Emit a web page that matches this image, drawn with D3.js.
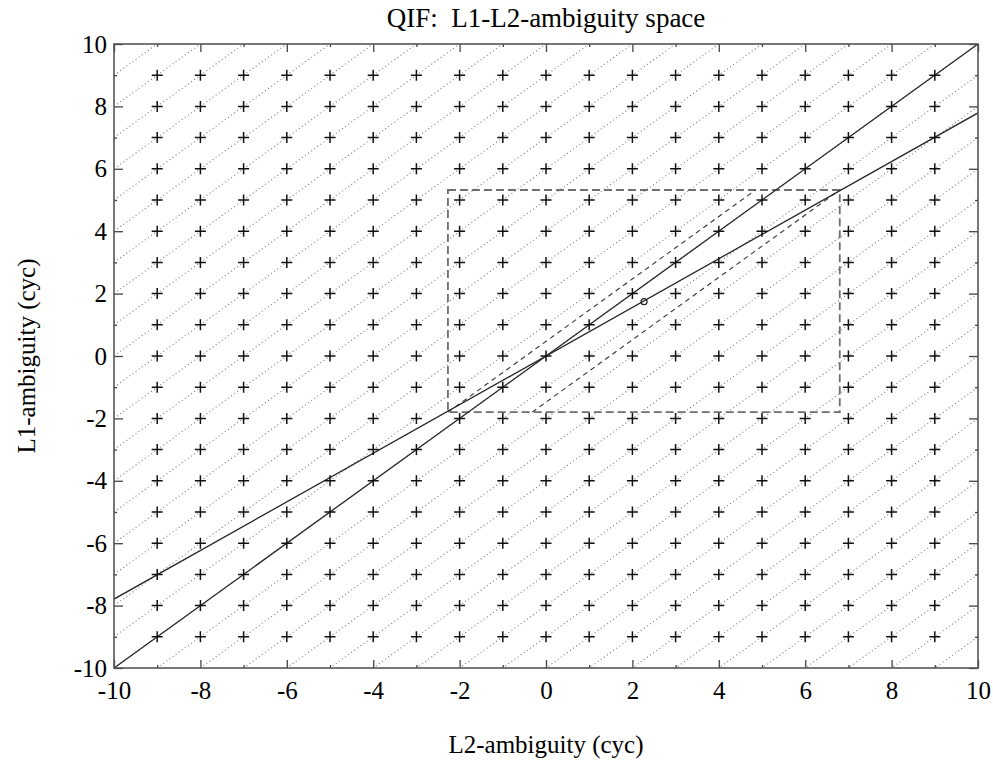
<!DOCTYPE html>
<html>
<head>
<meta charset="utf-8">
<script src="https://cdn.jsdelivr.net/npm/d3@7"></script>
<style>
    body { margin: 0; background: #fff; }
    svg text { font-family: 'Liberation Serif', 'DejaVu Serif', serif; fill: #000; }
</style>
</head>
<body>
<div id="chart"><svg width="993" height="761"></svg></div>
<script>
// Axis ranges and ticks.
var xDomain = [-10, 10];
var yDomain = [-10, 10];
var majorTicks = [-10, -8, -6, -4, -2, 0, 2, 4, 6, 8, 10];
var minorTicks = [-9, -7, -5, -3, -1, 1, 3, 5, 7, 9];

// Integer ambiguity candidates (both axes).
var gridValues = [-9, -8, -7, -6, -5, -4, -3, -2, -1, 0, 1, 2, 3, 4, 5, 6, 7, 8, 9];

// Dotted lines L1 = L2 + k.
var dottedOffsets = [-19, -18, -17, -16, -15, -14, -13, -12, -11, -10, -9, -8, -7, -6, -5, -4, -3, -2, -1,
    0, 1, 2, 3, 4, 5, 6, 7, 8, 9, 10, 11, 12, 13, 14, 15, 16, 17, 18, 19];

// Solid lines through the origin: slopes 1 and f2/f1 = 60/77.
var solidSlopes = [1, 60 / 77];

// Float solution and search box around it.
var floatSolution = { x: 2.27, y: 1.74 };
var searchBox = { x0: -2.27, x1: 6.80, y0: -1.80, y1: 5.32 };
var searchEdges = [
    [{ x: -2.27, y: -1.80 }, { x: 4.85, y: 5.32 }],
    [{ x: -0.32, y: -1.80 }, { x: 6.80, y: 5.32 }]
];

function QifChart(root) {
    this.svg = d3.select(root).select('svg');
    this.margin = { top: 44, left: 114, right: 15, bottom: 93 };
    this.width = 993 - this.margin.left - this.margin.right;
    this.height = 761 - this.margin.top - this.margin.bottom;
    this.x = d3.scaleLinear().domain(xDomain).range([0, this.width]);
    this.y = d3.scaleLinear().domain(yDomain).range([this.height, 0]);
    this.fmt = function(d) { return String(d); };   // plain hyphen minus
    this.plot = null;

    this._createFrame();
    this._drawDotted();
    this._drawSearch();
    this._drawSolid();
    this._drawGrid();
    this._drawAxes();
    this._drawText();
}

QifChart.prototype._createFrame = function() {
    this.svg.append('defs').append('clipPath')
        .attr('id', 'plot-clip')
        .append('rect')
        .attr('width', this.width)
        .attr('height', this.height);

    this.g = this.svg.append('g')
        .attr('transform', 'translate(' + this.margin.left + ',' + this.margin.top + ')');

    this.plot = this.g.append('g')
        .attr('clip-path', 'url(#plot-clip)');
};

QifChart.prototype._drawDotted = function() {
    var x = this.x, y = this.y;
    this.plot.selectAll('line.dotted')
        .data(dottedOffsets)
        .enter().append('line')
        .attr('class', 'dotted')
        .attr('x1', x(-10))
        .attr('y1', function(d) { return y(-10 + d); })
        .attr('x2', x(10))
        .attr('y2', function(d) { return y(10 + d); })
        .attr('stroke', '#8c8c8c')
        .attr('stroke-width', 1.1)
        .attr('stroke-dasharray', '1.2,2.6');
};

QifChart.prototype._drawSearch = function() {
    var x = this.x, y = this.y;

    this.plot.append('rect')
        .attr('x', x(searchBox.x0))
        .attr('y', y(searchBox.y1))
        .attr('width', x(searchBox.x1) - x(searchBox.x0))
        .attr('height', y(searchBox.y0) - y(searchBox.y1))
        .attr('fill', 'none')
        .attr('stroke', '#6e6e6e')
        .attr('stroke-width', 1.8)
        .attr('stroke-dasharray', '8,4');

    this.plot.selectAll('line.edge')
        .data(searchEdges)
        .enter().append('line')
        .attr('class', 'edge')
        .attr('x1', function(d) { return x(d[0].x); })
        .attr('y1', function(d) { return y(d[0].y); })
        .attr('x2', function(d) { return x(d[1].x); })
        .attr('y2', function(d) { return y(d[1].y); })
        .attr('stroke', '#333')
        .attr('stroke-width', 1.1)
        .attr('stroke-dasharray', '5,4');

    this.plot.append('circle')
        .attr('cx', x(floatSolution.x))
        .attr('cy', y(floatSolution.y))
        .attr('r', 3)
        .attr('fill', 'none')
        .attr('stroke', '#222')
        .attr('stroke-width', 1.2);
};

QifChart.prototype._drawSolid = function() {
    var x = this.x, y = this.y;
    this.plot.selectAll('line.solid')
        .data(solidSlopes)
        .enter().append('line')
        .attr('class', 'solid')
        .attr('x1', x(-10))
        .attr('y1', function(d) { return y(-10 * d); })
        .attr('x2', x(10))
        .attr('y2', function(d) { return y(10 * d); })
        .attr('stroke', '#262626')
        .attr('stroke-width', 1.3);
};

QifChart.prototype._drawGrid = function() {
    var x = this.x, y = this.y;
    var points = [];
    gridValues.forEach(function(a) {
        gridValues.forEach(function(b) {
            points.push({ x: a, y: b });
        });
    });

    this.plot.selectAll('path.plus')
        .data(points)
        .enter().append('path')
        .attr('class', 'plus')
        .attr('d', function(d) {
            var px = x(d.x), py = y(d.y);
            return 'M' + (px - 5.5) + ',' + py + 'H' + (px + 5.5) +
                'M' + px + ',' + (py - 5.5) + 'V' + (py + 5.5);
        })
        .attr('stroke', '#111')
        .attr('stroke-width', 1.5);
};

QifChart.prototype._drawAxes = function() {
    var w = this.width, h = this.height;

    // Tick marks point inward on all four sides.
    var bottom = this.g.append('g')
        .attr('transform', 'translate(0,' + h + ')')
        .call(d3.axisBottom(this.x).tickValues(majorTicks).tickSize(-8).tickPadding(13)
            .tickFormat(this.fmt));
    this.g.append('g')
        .call(d3.axisTop(this.x).tickValues(majorTicks).tickSize(-8).tickFormat(''));
    var left = this.g.append('g')
        .call(d3.axisLeft(this.y).tickValues(majorTicks).tickSize(-9).tickPadding(7)
            .tickFormat(this.fmt));
    this.g.append('g')
        .attr('transform', 'translate(' + w + ',0)')
        .call(d3.axisRight(this.y).tickValues(majorTicks).tickSize(-9).tickFormat(''));

    this.g.append('g')
        .attr('transform', 'translate(0,' + h + ')')
        .call(d3.axisBottom(this.x).tickValues(minorTicks).tickSize(-3).tickFormat(''));
    this.g.append('g')
        .call(d3.axisTop(this.x).tickValues(minorTicks).tickSize(-3).tickFormat(''));
    this.g.append('g')
        .call(d3.axisLeft(this.y).tickValues(minorTicks).tickSize(-3).tickFormat(''));
    this.g.append('g')
        .attr('transform', 'translate(' + w + ',0)')
        .call(d3.axisRight(this.y).tickValues(minorTicks).tickSize(-3).tickFormat(''));

    this.g.selectAll('.domain').remove();
    this.g.selectAll('.tick line')
        .attr('stroke', '#444')
        .attr('stroke-width', 1.3);

    [bottom, left].forEach(function(a) {
        a.selectAll('.tick text')
            .attr('font-size', 25)
            .attr('fill', '#000')
            .style('font-family', "'Liberation Serif', serif");
    });

    this.g.append('rect')
        .attr('width', w)
        .attr('height', h)
        .attr('fill', 'none')
        .attr('stroke', '#555')
        .attr('stroke-width', 1.6);
};

QifChart.prototype._drawText = function() {
    var cx = this.margin.left + this.width / 2;
    var cy = this.margin.top + this.height / 2;

    this.svg.append('text')
        .attr('x', cx)
        .attr('y', 27)
        .attr('font-size', 27)
        .attr('text-anchor', 'middle')
        .style('white-space', 'pre')
        .text('QIF:  L1-L2-ambiguity space');

    this.svg.append('text')
        .attr('x', cx)
        .attr('y', 753)
        .attr('font-size', 25)
        .attr('text-anchor', 'middle')
        .text('L2-ambiguity (cyc)');

    this.svg.append('text')
        .attr('transform', 'translate(35,' + cy + ') rotate(-90)')
        .attr('font-size', 25)
        .attr('text-anchor', 'middle')
        .text('L1-ambiguity (cyc)');
};

var chart = new QifChart('#chart');
</script>
</body>
</html>
